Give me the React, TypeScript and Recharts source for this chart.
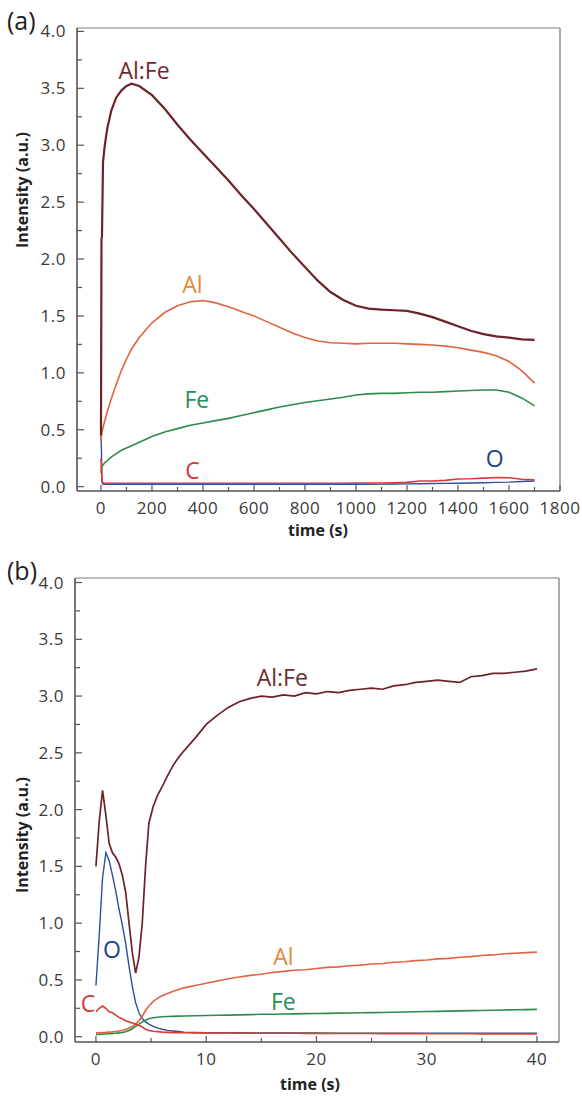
import React from 'react';
import { LineChart, Line, XAxis, YAxis, ReferenceDot, ReferenceLine } from 'recharts';

// ---- panel (a): long sputter profile, time in seconds ----
const topTime = [0, 2, 4, 8, 15, 25, 40, 60, 80, 100, 120, 150, 200, 250, 300, 350, 400, 450, 500, 550, 600, 650, 700, 750, 800, 850, 900, 950, 1000, 1050, 1100, 1150, 1200, 1250, 1300, 1350, 1400, 1450, 1500, 1550, 1600, 1650, 1700];
const topAlFe = [0.45, 2.17, 2.2, 2.85, 3.0, 3.15, 3.3, 3.42, 3.48, 3.52, 3.54, 3.52, 3.44, 3.32, 3.18, 3.05, 2.93, 2.81, 2.69, 2.56, 2.44, 2.31, 2.18, 2.05, 1.93, 1.81, 1.71, 1.64, 1.59, 1.565, 1.555, 1.55, 1.545, 1.52, 1.49, 1.45, 1.41, 1.37, 1.34, 1.32, 1.31, 1.295, 1.29];
const topAl = [0.4, 0.45, 0.48, 0.52, 0.58, 0.66, 0.77, 0.9, 1.02, 1.12, 1.21, 1.31, 1.44, 1.53, 1.59, 1.625, 1.635, 1.615, 1.58, 1.54, 1.5, 1.45, 1.4, 1.35, 1.31, 1.28, 1.265, 1.26, 1.255, 1.26, 1.26, 1.26, 1.255, 1.25, 1.245, 1.235, 1.22, 1.2, 1.18, 1.15, 1.1, 1.02, 0.91];
const topFe = [0.12, 0.17, 0.18, 0.19, 0.21, 0.23, 0.26, 0.29, 0.32, 0.34, 0.36, 0.39, 0.44, 0.48, 0.51, 0.54, 0.56, 0.58, 0.6, 0.625, 0.65, 0.675, 0.7, 0.72, 0.74, 0.755, 0.77, 0.785, 0.805, 0.815, 0.82, 0.82, 0.825, 0.83, 0.83, 0.835, 0.84, 0.845, 0.85, 0.85, 0.83, 0.78, 0.71];
const topC = [0.25, 0.15, 0.05, 0.035, 0.03, 0.03, 0.03, 0.03, 0.03, 0.03, 0.03, 0.03, 0.03, 0.03, 0.03, 0.03, 0.03, 0.03, 0.03, 0.03, 0.03, 0.03, 0.03, 0.03, 0.03, 0.03, 0.03, 0.03, 0.031, 0.032, 0.032, 0.035, 0.038, 0.05, 0.05, 0.055, 0.068, 0.07, 0.075, 0.08, 0.078, 0.065, 0.06];
const topO = [0.52, 0.3, 0.04, 0.02, 0.02, 0.02, 0.02, 0.02, 0.02, 0.02, 0.02, 0.02, 0.02, 0.02, 0.02, 0.02, 0.02, 0.02, 0.02, 0.02, 0.02, 0.02, 0.02, 0.02, 0.02, 0.02, 0.02, 0.02, 0.02, 0.02, 0.022, 0.023, 0.025, 0.026, 0.028, 0.029, 0.03, 0.032, 0.035, 0.038, 0.04, 0.045, 0.05];

// ---- panel (b): first 40 s ----
const bottomTime = [0, 0.3, 0.6, 0.9, 1.2, 1.5, 1.8, 2.1, 2.4, 2.7, 3.0, 3.3, 3.6, 3.9, 4.2, 4.5, 4.8, 5.2, 5.6, 6, 6.5, 7, 7.5, 8, 9, 10, 11, 12, 13, 14, 15, 16, 17, 18, 19, 20, 21, 22, 23, 24, 25, 26, 27, 28, 29, 30, 31, 32, 33, 34, 35, 36, 37, 38, 39, 40];
const bottomAlFe = [1.5, 1.9, 2.17, 1.95, 1.7, 1.62, 1.58, 1.52, 1.42, 1.27, 1.0, 0.74, 0.56, 0.7, 1.0, 1.5, 1.88, 2.03, 2.13, 2.2, 2.3, 2.39, 2.46, 2.52, 2.63, 2.75, 2.83, 2.9, 2.95, 2.98, 3.0, 2.99, 3.01, 3.0, 3.03, 3.02, 3.04, 3.03, 3.05, 3.06, 3.07, 3.06, 3.09, 3.1, 3.12, 3.13, 3.14, 3.13, 3.12, 3.17, 3.18, 3.2, 3.2, 3.21, 3.22, 3.24];
const bottomAl = [0.035, 0.035, 0.037, 0.038, 0.04, 0.042, 0.045, 0.05, 0.055, 0.063, 0.075, 0.09, 0.11, 0.14, 0.18, 0.23, 0.27, 0.31, 0.34, 0.36, 0.38, 0.4, 0.415, 0.43, 0.45, 0.47, 0.49, 0.51, 0.525, 0.54, 0.55, 0.565, 0.575, 0.585, 0.59, 0.6, 0.61, 0.615, 0.625, 0.63, 0.64, 0.645, 0.655, 0.66, 0.67, 0.675, 0.685, 0.69, 0.7, 0.705, 0.715, 0.72, 0.73, 0.735, 0.74, 0.745];
const bottomFe = [0.02, 0.02, 0.022, 0.024, 0.026, 0.028, 0.03, 0.033, 0.037, 0.043, 0.055, 0.07, 0.09, 0.11, 0.13, 0.145, 0.158, 0.166, 0.171, 0.175, 0.177, 0.179, 0.181, 0.182, 0.184, 0.186, 0.188, 0.19, 0.192, 0.194, 0.197, 0.198, 0.2, 0.201, 0.203, 0.204, 0.205, 0.207, 0.208, 0.21, 0.212, 0.213, 0.215, 0.217, 0.219, 0.221, 0.223, 0.225, 0.227, 0.229, 0.231, 0.233, 0.235, 0.237, 0.238, 0.24];
const bottomC = [0.22, 0.25, 0.27, 0.25, 0.22, 0.21, 0.19, 0.17, 0.155, 0.14, 0.13, 0.12, 0.11, 0.1, 0.085, 0.065, 0.055, 0.048, 0.044, 0.04, 0.038, 0.036, 0.035, 0.034, 0.033, 0.033, 0.032, 0.032, 0.031, 0.031, 0.03, 0.03, 0.03, 0.03, 0.029, 0.029, 0.029, 0.028, 0.028, 0.028, 0.028, 0.027, 0.027, 0.027, 0.027, 0.026, 0.026, 0.026, 0.026, 0.026, 0.025, 0.025, 0.025, 0.025, 0.025, 0.025];
const bottomO = [0.45, 0.9, 1.4, 1.62, 1.55, 1.42, 1.28, 1.12, 0.98, 0.82, 0.62, 0.44, 0.3, 0.21, 0.16, 0.13, 0.11, 0.09, 0.075, 0.065, 0.055, 0.05, 0.045, 0.04, 0.037, 0.035, 0.035, 0.034, 0.034, 0.033, 0.033, 0.033, 0.032, 0.032, 0.032, 0.032, 0.031, 0.031, 0.031, 0.031, 0.031, 0.03, 0.03, 0.03, 0.03, 0.03, 0.03, 0.03, 0.03, 0.03, 0.03, 0.03, 0.03, 0.03, 0.03, 0.03];

// ---- ticks ----
const topTicksX = [0, 100, 200, 300, 400, 500, 600, 700, 800, 900, 1000, 1100, 1200, 1300, 1400, 1500, 1600, 1700, 1800];
const topMajorX = [0, 200, 400, 600, 800, 1000, 1200, 1400, 1600, 1800];
const bottomTicksX = [0, 5, 10, 15, 20, 25, 30, 35, 40];
const bottomMajorX = [0, 10, 20, 30, 40];
const yTicks = [0, 0.25, 0.5, 0.75, 1, 1.25, 1.5, 1.75, 2, 2.25, 2.5, 2.75, 3, 3.25, 3.5, 3.75, 4];
const yMajor = [0, 0.5, 1, 1.5, 2, 2.5, 3, 3.5, 4];

const COLORS = {
  alfe: '#6b2228',
  al: '#e2633f',
  fe: '#2e8b4a',
  c: '#d93a3a',
  o: '#2d4f9e',
};
const LABEL_COLORS = {
  alfe: '#6e2b2f',
  al: '#e08a3a',
  fe: '#23925a',
  c: '#d13b3b',
  o: '#23408e',
};

const topNotes = [
  { text: 'Al:Fe', t: 169, v: 3.65, key: 'alfe' },
  { text: 'Al', t: 359, v: 1.77, key: 'al' },
  { text: 'Fe', t: 376, v: 0.76, key: 'fe' },
  { text: 'C', t: 359, v: 0.14, key: 'c' },
  { text: 'O', t: 1544, v: 0.245, key: 'o' },
];
const bottomNotes = [
  { text: 'Al:Fe', t: 16.9, v: 3.16, key: 'alfe' },
  { text: 'Al', t: 17, v: 0.7, key: 'al' },
  { text: 'Fe', t: 17, v: 0.305, key: 'fe' },
  { text: 'C', t: -0.73, v: 0.29, key: 'c' },
  { text: 'O', t: 1.45, v: 0.763, key: 'o' },
];

const topRows = topTime.map((t, i) => ({ t, alfe: topAlFe[i], al: topAl[i], fe: topFe[i], c: topC[i], o: topO[i] }));
const bottomRows = bottomTime.map((t, i) => ({ t, alfe: bottomAlFe[i], al: bottomAl[i], fe: bottomFe[i], c: bottomC[i], o: bottomO[i] }));

const FONT = '"Open Sans", sans-serif';
const AXIS = '#555';
const TEXT = '#3a3a3a';

const makeXTick = (majors: number[]) => (props: any) => {
  const { x, y, payload } = props;
  const major = majors.includes(payload.value);
  return (
    <g>
      <line x1={x} x2={x} y1={y} y2={y - (major ? 6 : 4)} stroke={AXIS} strokeWidth={1.2} />
      {major && (
        <text x={x} y={y + 23} textAnchor="middle" fontSize={17} fill={TEXT} fontFamily={FONT} letterSpacing={0.5}>
          {payload.value}
        </text>
      )}
    </g>
  );
};

const YTick = (props: any) => {
  const { x, y, payload } = props;
  const major = yMajor.includes(payload.value);
  return (
    <g>
      <line x1={x} x2={x + (major ? 7 : 5)} y1={y} y2={y} stroke={AXIS} strokeWidth={1.2} />
      {major && (
        <text x={x - 11} y={y + 6} textAnchor="end" fontSize={17} fill={TEXT} fontFamily={FONT} letterSpacing={0.5}>
          {payload.value.toFixed(1)}
        </text>
      )}
    </g>
  );
};

const series = [
  { key: 'o', w: 1.4 },
  { key: 'fe', w: 1.6 },
  { key: 'al', w: 1.6 },
  { key: 'c', w: 1.6 },
  { key: 'alfe', w: 1.8 },
];

function Panel(props: {
  rows: any[];
  notes: typeof topNotes;
  xDomain: [number, number];
  yDomain: [number, number];
  xTicks: number[];
  xMajor: number[];
  height: number;
  margin: any;
  yWidth: number;
  alfeWidth: number;
}) {
  const { rows, notes, xDomain, yDomain, xTicks, xMajor, height, margin, yWidth, alfeWidth } = props;
  return (
    <LineChart width={582} height={height} data={rows} margin={margin}>
      <XAxis
        dataKey="t"
        type="number"
        domain={xDomain}
        allowDataOverflow
        ticks={xTicks}
        interval={0}
        tick={makeXTick(xMajor)}
        tickLine={false}
        tickSize={0}
        tickMargin={0}
        height={30}
        axisLine={{ stroke: AXIS, strokeWidth: 1.6 }}
      />
      <YAxis
        type="number"
        domain={yDomain}
        allowDataOverflow
        ticks={yTicks}
        interval={0}
        tick={YTick}
        tickLine={false}
        tickSize={0}
        tickMargin={0}
        width={yWidth}
        axisLine={{ stroke: AXIS, strokeWidth: 1.6 }}
      />
      <ReferenceLine y={yDomain[1]} stroke="#a8a8a8" strokeWidth={1.4} />
      <ReferenceLine x={xDomain[1]} stroke="#999" strokeWidth={1.6} />
      {series.map((s) => (
        <Line
          key={s.key}
          dataKey={s.key}
          type="linear"
          stroke={(COLORS as any)[s.key]}
          strokeWidth={s.key === 'alfe' ? alfeWidth : s.w}
          dot={false}
          isAnimationActive={false}
        />
      ))}
      {notes.map((n) => (
        <ReferenceDot
          key={n.text}
          x={n.t}
          y={n.v}
          r={0}
          fill="none"
          stroke="none"
          label={{ value: n.text, position: 'center', fill: (LABEL_COLORS as any)[n.key], fontSize: 23, fontFamily: FONT }}
        />
      ))}
    </LineChart>
  );
}

const abs = (left: number, top: number): React.CSSProperties => ({ position: 'absolute', left, top });

export default function App() {
  const axisTitle: React.CSSProperties = { fontFamily: FONT, fontSize: 16, fontWeight: 700, color: '#222', whiteSpace: 'nowrap', lineHeight: 1 };
  const panelTag: React.CSSProperties = { fontFamily: FONT, fontSize: 25, color: '#222', lineHeight: '28px' };
  return (
    <div style={{ position: 'absolute', left: 0, top: 0, width: 582, height: 1101, background: '#fff', overflow: 'hidden' }}>
      <div style={abs(0, 0)}>
        <Panel
          rows={topRows}
          notes={topNotes}
          xDomain={[-94, 1800]}
          yDomain={[-0.038, 4.03]}
          xTicks={topTicksX}
          xMajor={topMajorX}
          height={545}
          margin={{ top: 28, right: 22, bottom: 24, left: 0 }}
          yWidth={77}
          alfeWidth={2.2}
        />
      </div>
      <div style={abs(0, 545)}>
        <Panel
          rows={bottomRows}
          notes={bottomNotes}
          xDomain={[-1.9, 42]}
          yDomain={[-0.047, 4.04]}
          xTicks={bottomTicksX}
          xMajor={bottomMajorX}
          height={556}
          margin={{ top: 33, right: 23, bottom: 29, left: 0 }}
          yWidth={75}
          alfeWidth={1.7}
        />
      </div>
      <div style={{ ...panelTag, ...abs(7, 6) }}>(a)</div>
      <div style={{ ...panelTag, ...abs(7, 556) }}>(b)</div>
      <div style={{ ...axisTitle, position: 'absolute', left: 22, top: 190, transform: 'translate(-50%, -50%) rotate(-90deg)' }}>
        Intensity (a.u.)
      </div>
      <div style={{ ...axisTitle, position: 'absolute', left: 22, top: 835, transform: 'translate(-50%, -50%) rotate(-90deg)' }}>
        Intensity (a.u.)
      </div>
      <div style={{ ...axisTitle, position: 'absolute', left: 318, top: 530, transform: 'translate(-50%, -50%)' }}>time (s)</div>
      <div style={{ ...axisTitle, position: 'absolute', left: 310, top: 1084, transform: 'translate(-50%, -50%)' }}>time (s)</div>
    </div>
  );
}
